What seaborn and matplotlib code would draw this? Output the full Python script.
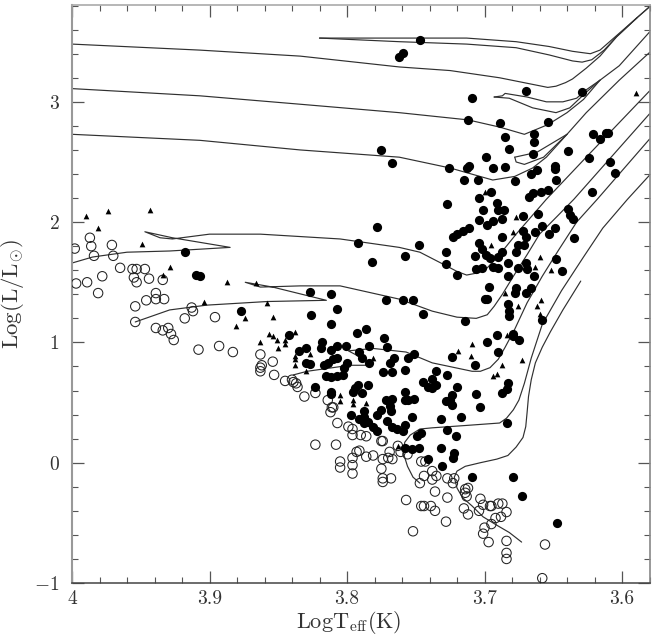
import matplotlib
matplotlib.use("Agg")
import matplotlib.pyplot as plt
import seaborn as sns
from matplotlib.ticker import MultipleLocator

# estrelas com circulo cheio
cheio_t = [3.747,3.759,3.762,3.670,3.629,3.709,3.712,3.689,3.654,3.685,3.664,3.664,3.682,3.621,3.616,3.612,3.610,3.639,3.665,3.699,
3.624,3.609,3.605,3.726,3.713,3.711,3.694,3.685,3.649,3.649,3.662,3.666,3.715,3.705,3.678,3.648,3.695,3.704,3.691,3.727,
3.668,3.665,3.659,3.654,3.622,3.701,3.690,3.686,3.639,3.638,3.636,3.661,3.672,3.704,3.687,3.694,3.698,3.711,3.716,3.720,
3.723,3.658,3.649,3.663,3.653,3.672,3.670,3.687,3.635,3.748,3.758,3.728,3.728,3.720,3.704,3.702,3.707,3.699,3.696,3.690,
3.687,3.677,3.683,3.694,3.690,3.706,3.702,3.683,3.676,3.670,3.669,3.664,3.648,3.644,3.676,3.671,3.697,3.678,3.677,3.670,
3.666,3.700,3.698,3.683,3.682,3.682,3.658,3.759,3.752,3.772,3.745,3.714,3.691,3.679,3.679,3.675,3.698,3.690,3.751,3.756,
3.724,3.707,3.758,3.735,3.727,3.738,3.745,3.735,3.738,3.741,3.720,3.683,3.684,3.687,3.758,3.751,3.756,3.758,3.706,3.724,
3.725,3.728,3.724,3.703,3.753,3.732,3.717,3.684,3.758,3.759,3.746,3.749,3.727,3.721,3.758,3.753,3.748,3.732,3.722,3.723,
3.741,3.731,3.709,3.679,3.673,3.647,3.812,3.793,3.786,3.842,3.773,3.835,3.830,3.818,3.819,3.812,3.807,3.801,3.784,3.771,
3.791,3.789,3.784,3.807,3.810,3.814,3.817,3.800,3.802,3.830,3.827,3.766,3.769,3.774,3.767,3.815,3.812,3.807,3.803,3.823,
3.812,3.812,3.792,3.785,3.794,3.789,3.796,3.772,3.767,3.769,3.768,3.775,3.778,3.788,3.797,3.788,3.791,3.788,3.785,3.781,
3.778,3.771,3.767,3.764,3.918,3.910,3.907,3.877,3.827,3.812,3.807,3.826,3.775,3.767,3.782,3.792,3.778]
cheio_l = [3.51,3.41,3.37,3.09,3.08,3.03,2.85,2.82,2.83,2.71,2.73,2.67,2.61,2.73,2.69,2.74,2.74,2.59,2.57,2.54,
2.53,2.50,2.41,2.45,2.45,2.47,2.45,2.46,2.47,2.44,2.43,2.40,2.35,2.35,2.34,2.35,2.25,2.20,2.16,2.15,
2.21,2.24,2.25,2.27,2.25,2.10,2.10,2.10,2.11,2.06,2.03,2.07,2.05,2.02,2.03,2.01,1.98,1.95,1.93,1.90,
1.88,1.97,1.95,1.92,1.90,1.93,1.88,1.88,1.87,1.81,1.72,1.75,1.65,1.56,1.83,1.78,1.72,1.73,1.70,1.71,
1.75,1.75,1.66,1.63,1.62,1.61,1.62,1.55,1.62,1.66,1.61,1.55,1.69,1.59,1.81,1.81,1.46,1.41,1.45,1.41,
1.45,1.36,1.36,1.32,1.26,1.22,1.19,1.35,1.35,1.35,1.24,1.18,1.06,1.07,1.05,1.02,1.00,0.92,0.90,0.87,
0.88,0.81,0.77,0.76,0.73,0.70,0.67,0.65,0.62,0.63,0.63,0.66,0.61,0.58,0.59,0.53,0.52,0.52,0.57,0.56,
0.52,0.51,0.48,0.46,0.38,0.36,0.38,0.33,0.31,0.26,0.25,0.22,0.27,0.22,0.12,0.11,0.12,0.12,0.08,0.04,
0.03,-0.03,-0.12,-0.12,-0.28,-0.50,1.15,1.08,1.11,1.06,1.04,0.93,0.95,1.00,0.95,0.94,0.97,0.97,0.97,0.96,
0.92,0.87,0.83,0.87,0.86,0.83,0.81,0.83,0.79,0.83,0.82,0.87,0.83,0.75,0.75,0.72,0.71,0.72,0.73,0.63,
0.59,0.57,0.65,0.65,0.62,0.58,0.59,0.52,0.53,0.47,0.43,0.44,0.40,0.43,0.40,0.38,0.36,0.33,0.34,0.30,
0.26,0.35,0.30,0.28,1.75,1.56,1.55,1.26,1.42,1.40,1.28,1.23,2.60,2.49,1.67,1.83,1.96]

# estrelas com circulo aberto
aberto_t = [3.998,3.987,3.986,3.984,3.971,3.970,3.965,3.956,3.953,3.947,3.955,3.953,3.944,3.934,3.997,3.989,3.978,3.981,3.939,3.939,
3.946,3.933,3.954,3.954,3.913,3.912,3.918,3.896,3.939,3.934,3.930,3.928,3.926,3.908,3.893,3.883,3.863,3.854,3.853,3.862,
3.863,3.863,3.845,3.840,3.839,3.837,3.836,3.831,3.823,3.814,3.811,3.810,3.812,3.807,3.799,3.796,3.796,3.790,3.786,3.823,
3.808,3.793,3.791,3.775,3.774,3.763,3.805,3.805,3.796,3.796,3.796,3.786,3.781,3.769,3.770,3.767,3.774,3.775,3.768,3.774,
3.774,3.761,3.756,3.746,3.743,3.744,3.738,3.738,3.735,3.747,3.736,3.727,3.722,3.723,3.727,3.757,3.746,3.744,3.739,3.736,
3.728,3.752,3.714,3.712,3.714,3.713,3.715,3.712,3.703,3.701,3.704,3.696,3.695,3.690,3.687,3.684,3.688,3.692,3.695,3.700,
3.701,3.697,3.684,3.684,3.684,3.656,3.658]
aberto_l = [1.78,1.87,1.80,1.72,1.81,1.72,1.62,1.61,1.61,1.61,1.54,1.50,1.53,1.52,1.49,1.50,1.55,1.41,1.41,1.36,
1.35,1.36,1.30,1.17,1.29,1.26,1.20,1.21,1.12,1.10,1.12,1.07,1.02,0.94,0.97,0.92,0.90,0.84,0.73,0.81,
0.79,0.76,0.68,0.69,0.67,0.66,0.63,0.55,0.58,0.52,0.46,0.46,0.42,0.33,0.30,0.28,0.23,0.23,0.22,0.15,
0.15,0.09,0.10,0.18,0.18,0.14,0.01,-0.04,0.04,-0.02,-0.09,0.05,0.06,0.09,0.04,0.03,0.03,-0.05,-0.13,-0.13,
-0.16,0.09,0.07,0.01,0.01,-0.11,-0.07,-0.14,-0.11,-0.17,-0.24,-0.13,-0.13,-0.17,-0.29,-0.31,-0.36,-0.36,-0.36,-0.40,
-0.49,-0.57,-0.22,-0.21,-0.25,-0.28,-0.38,-0.43,-0.30,-0.35,-0.40,-0.36,-0.36,-0.34,-0.34,-0.41,-0.45,-0.46,-0.51,-0.54,
-0.59,-0.66,-0.65,-0.75,-0.80,-0.68,-0.96]

# triangulos
tri_t = [3.990,3.974,3.943,3.981,3.949,3.929,3.934,3.887,3.866,3.904,3.858,3.854,3.874,3.881,3.857,3.854,3.851,3.845,3.845,3.838,
3.863,3.850,3.838,3.838,3.838,3.827,3.830,3.805,3.805,3.796,3.796,3.786,3.781,3.719,3.806,3.763,3.677,3.679,3.695,3.660,
3.663,3.652,3.685,3.676,3.659,3.662,3.660,3.684,3.709,3.710,3.687,3.673,3.691,3.694,3.590,3.700]
tri_l = [2.05,2.09,2.10,1.95,1.82,1.63,1.56,1.50,1.49,1.34,1.33,1.21,1.20,1.14,1.07,1.05,1.02,1.02,0.99,1.09,
1.00,0.95,0.89,0.86,0.81,0.90,0.76,0.56,0.51,0.52,0.49,0.50,0.87,0.93,0.72,0.14,2.04,1.92,1.81,1.71,
1.63,1.60,1.41,1.30,1.35,1.30,1.24,1.06,0.99,0.89,0.81,0.85,0.74,0.72,3.07,2.25]

# trilhas evolutivas
t1_t = [4.000,3.907,3.834,3.762,3.725,3.689,3.654,3.648,3.641,3.636,3.626,3.616,3.604,3.589,3.580]
t1_l = [3.48,3.43,3.38,3.29,3.26,3.20,3.12,3.13,3.16,3.19,3.28,3.38,3.54,3.70,3.79]
laco1a_t = [3.820,3.747,3.713,3.677,3.653,3.636,3.623,3.616,3.606,3.589,3.580]
laco1a_l = [3.53,3.53,3.53,3.50,3.46,3.42,3.40,3.43,3.53,3.70,3.79]
laco1b_t = [3.820,3.762,3.713,3.677,3.653,3.636,3.629,3.622,3.613,3.604,3.589]
laco1b_l = [3.53,3.50,3.48,3.45,3.39,3.34,3.33,3.35,3.43,3.54,3.70]
t2_t = [4.000,3.907,3.834,3.762,3.712,3.689,3.671,3.654,3.640,3.628,3.616,3.602,3.580]
t2_l = [3.11,3.05,2.98,2.91,2.85,2.79,2.73,2.81,2.91,3.02,3.18,3.30,3.58]
laco2a_t = [3.693,3.687,3.685,3.669,3.655,3.643,3.633,3.626,3.616]
laco2a_l = [3.04,3.05,3.07,3.04,3.00,3.00,3.03,3.10,3.18]
laco2b_t = [3.693,3.682,3.665,3.648,3.638,3.626,3.616]
laco2b_l = [3.04,3.03,2.95,2.91,2.95,3.08,3.18]
t3_t = [4.000,3.907,3.834,3.762,3.725,3.694,3.678,3.665,3.655,3.640,3.626,3.602,3.580]
t3_l = [2.73,2.68,2.60,2.54,2.45,2.35,2.38,2.45,2.54,2.73,2.91,3.18,3.41]
laco3a_t = [3.678,3.677,3.671,3.657,3.640]
laco3a_l = [2.54,2.50,2.48,2.54,2.73]
laco3b_t = [3.678,3.674,3.662,3.640]
laco3b_l = [2.54,2.55,2.58,2.73]
t4_t = [4.000,3.985,3.960,3.929,3.885,3.927,3.947,3.936,3.927,3.900,3.863,3.805,3.762,3.747,3.730,3.720,3.713,3.704,3.698,3.689,3.677,3.655,3.626,3.580]
t4_l = [1.66,1.71,1.75,1.76,1.79,1.87,1.92,1.87,1.86,1.90,1.90,1.86,1.79,1.75,1.65,1.59,1.56,1.58,1.62,1.73,1.90,2.19,2.54,3.09]
t5_t = [3.954,3.929,3.902,3.858,3.815,3.854,3.874,3.863,3.834,3.805,3.762,3.738,3.720,3.706,3.698,3.693,3.687,3.679,3.669,3.660,3.647,3.635,3.580]
t5_l = [1.17,1.27,1.31,1.34,1.35,1.46,1.50,1.46,1.47,1.47,1.36,1.26,1.21,1.20,1.23,1.30,1.40,1.55,1.73,1.90,2.05,2.19,2.90]
t6_t = [3.839,3.829,3.798,3.782,3.789,3.799,3.781,3.757,3.738,3.709,3.703,3.696,3.690,3.685,3.678,3.669,3.658,3.646,3.633,3.618,3.580]
t6_l = [0.73,0.76,0.81,0.81,0.87,0.93,0.95,0.92,0.83,0.76,0.76,0.79,0.86,0.96,1.11,1.33,1.55,1.77,2.00,2.19,2.69]
t7_t = [3.747,3.752,3.756,3.759,3.758,3.754,3.747,3.738,3.713,3.689,3.684,3.679,3.675,3.671,3.666,3.658,3.644,3.628,3.614,3.596,3.580]
t7_l = [-0.17,-0.12,-0.03,0.08,0.17,0.23,0.28,0.29,0.31,0.33,0.37,0.44,0.52,0.66,0.87,1.15,1.43,1.71,1.95,2.19,2.39]
t8_t = [3.673,3.682,3.691,3.701,3.709,3.716,3.720,3.722,3.720,3.714,3.703,3.691,3.683,3.677,3.672,3.670,3.669,3.668,3.666,3.663,3.658,3.652,3.643,3.630]
t8_l = [-0.66,-0.58,-0.52,-0.45,-0.36,-0.29,-0.21,-0.12,-0.07,-0.03,0.00,0.03,0.06,0.13,0.21,0.30,0.42,0.55,0.69,0.83,0.96,1.09,1.27,1.51]

trilhas = [(t1_t, t1_l), (laco1a_t, laco1a_l), (laco1b_t, laco1b_l), (t2_t, t2_l), (laco2a_t, laco2a_l),
           (laco2b_t, laco2b_l), (t3_t, t3_l), (laco3a_t, laco3a_l), (laco3b_t, laco3b_l), (t4_t, t4_l),
           (t5_t, t5_l), (t6_t, t6_l), (t7_t, t7_l), (t8_t, t8_l)]

x_ticks = [4, 3.9, 3.8, 3.7, 3.6]
x_labels = ["4", "3.9", "3.8", "3.7", "3.6"]
y_ticks = [-1, 0, 1, 2, 3]
y_labels = ["$-1$", "0", "1", "2", "3"]

sns.set_theme(style="white")
plt.rcParams["font.family"] = ["cmr10", "DejaVu Serif"]
plt.rcParams["mathtext.fontset"] = "cm"
plt.rcParams["axes.unicode_minus"] = False

fig = plt.figure(figsize=(6.6, 6.43), dpi=100)
ax = fig.add_axes([72 / 660, 1 - 583 / 643, 577.5 / 660, 578 / 643])

for t, l in trilhas:
    sns.lineplot(x=t, y=l, sort=False, estimator=None, color="#303030", linewidth=0.85, ax=ax, zorder=2)

sns.scatterplot(x=aberto_t, y=aberto_l, marker="o", s=46, facecolors="none", edgecolor="#222222", linewidth=0.75, ax=ax, zorder=3)
sns.scatterplot(x=tri_t, y=tri_l, marker="^", s=17, color="black", linewidth=0, ax=ax, zorder=4)
sns.scatterplot(x=cheio_t, y=cheio_l, marker="o", s=44, color="black", linewidth=0, ax=ax, zorder=5)

ax.set_xlim(4.0, 3.58)
ax.set_ylim(-1, 3.805)
ax.set_xticks(x_ticks)
ax.set_xticklabels(x_labels, fontsize=14)
ax.set_yticks(y_ticks)
ax.set_yticklabels(y_labels, fontsize=14)
ax.xaxis.set_minor_locator(MultipleLocator(0.02))
ax.yaxis.set_minor_locator(MultipleLocator(0.2))
ax.tick_params(which="major", direction="in", length=8.6, width=0.9, color="#555555", top=True, right=True, bottom=True, left=True, pad=5, labelcolor="#333333")
ax.tick_params(which="minor", direction="in", length=4.3, width=0.8, color="#555555", top=True, right=True, bottom=True, left=True)
ax.tick_params(axis="y", which="major", pad=9)

ax.spines["left"].set_color("#999999")
ax.spines["left"].set_linewidth(1.5)
ax.spines["top"].set_color("#aaaaaa")
ax.spines["top"].set_linewidth(1.2)
ax.spines["right"].set_color("#888888")
ax.spines["right"].set_linewidth(1.2)
ax.spines["bottom"].set_color("#444444")
ax.spines["bottom"].set_linewidth(1.1)

ax.set_xlabel(r"$\mathrm{LogT_{eff}(K)}$", fontsize=16, labelpad=5, color="#333333")
ax.xaxis.set_label_coords(0.479, -0.045, transform=ax.transAxes)
ax.xaxis.label.set_verticalalignment("top")
ax.set_ylabel(r"$\mathrm{Log(L/L_{\odot})}$", fontsize=16.5, labelpad=6, color="#333333")

plt.savefig("out.png", dpi=100)
plt.close()
